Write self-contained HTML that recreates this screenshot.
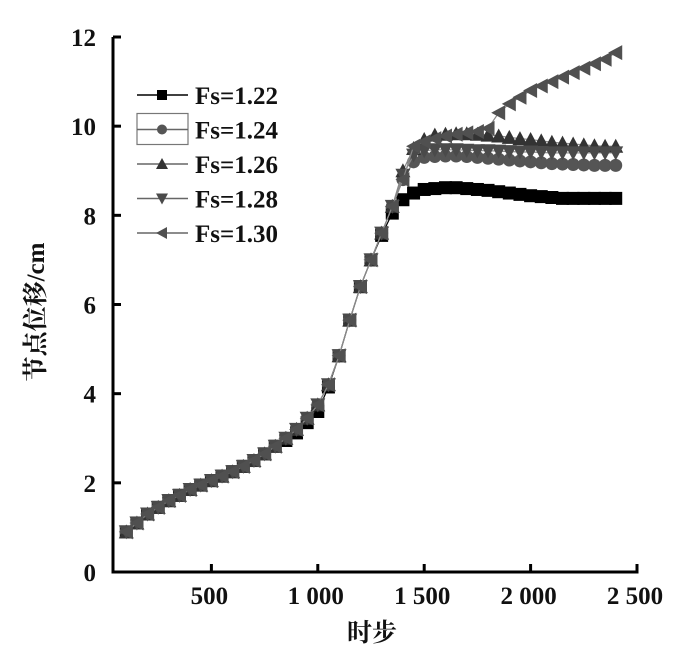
<!DOCTYPE html>
<html><head><meta charset="utf-8"><style>
html,body{margin:0;padding:0;background:#fff;}
svg{display:block;}
text{font-family:"Liberation Serif","Noto Serif CJK SC",serif;fill:#111;font-weight:bold;}
</style></head><body>
<svg id="chart" width="700" height="656"></svg>
<script>
const steps=[100,150,200,250,300,350,400,450,500,550,600,650,700,750,800,850,900,950,1000,1050,1100,1150,1200,1250,1300,1350,1400,1450,1500,1550,1600,1650,1700,1750,1800,1850,1900,1950,2000,2050,2100,2150,2200,2250,2300,2350,2400];
const head=[0.9,1.1,1.3,1.45,1.6,1.72,1.85,1.95,2.05,2.15,2.25,2.37,2.5,2.65,2.82,3.0,3.2,3.45,3.75,4.2,4.85,5.65,6.4,7.0,7.6,8.2];
const head122=[0.9,1.1,1.3,1.45,1.6,1.72,1.85,1.95,2.05,2.15,2.25,2.37,2.5,2.65,2.82,2.95,3.12,3.35,3.6,4.15,4.85,5.65,6.4,7.0,7.55,8.05];
const tail122=[8.35,8.5,8.58,8.6,8.62,8.62,8.6,8.58,8.56,8.53,8.5,8.47,8.44,8.42,8.4,8.38,8.38,8.38,8.38,8.38,8.38];
const tail124=[8.8,9.2,9.3,9.32,9.33,9.33,9.32,9.3,9.28,9.26,9.24,9.22,9.2,9.18,9.16,9.15,9.14,9.13,9.12,9.12,9.12];
const tail126=[9.0,9.5,9.7,9.8,9.82,9.83,9.83,9.82,9.8,9.78,9.75,9.72,9.7,9.67,9.64,9.62,9.6,9.58,9.56,9.55,9.55];
const tail128=[8.9,9.35,9.45,9.47,9.47,9.47,9.46,9.45,9.45,9.44,9.43,9.42,9.42,9.41,9.4,9.4,9.4,9.4,9.4,9.4,9.4];
const tail130=[8.8,9.55,9.65,9.72,9.78,9.82,9.85,9.88,9.95,10.3,10.5,10.65,10.8,10.9,11.0,11.1,11.2,11.3,11.4,11.5,11.65];
const seriesNames=["Fs=1.22","Fs=1.24","Fs=1.26","Fs=1.28","Fs=1.30"];
const xTicks=[500,1000,1500,2000,2500];
const xTickLabels=["500","1 000","1 500","2 000","2 500"];
const yTicks=[0,2,4,6,8,10,12];

const series=[head122.concat(tail122),head.concat(tail124),head.concat(tail126),head.concat(tail128),head.concat(tail130)];
const shapes=["square","circle","up","down","left"];
const fills=["#000","#555","#333","#4a4a4a","#505050"];
const XA=113,XZ=105,Y0=572;
const xs=v=>XZ+v*(532/2500);
const ys=v=>Y0-v*(535/12);
const NS="http://www.w3.org/2000/svg";
const svg=document.getElementById('chart');
function mk(tag,attrs,parent){const e=document.createElementNS(NS,tag);for(const k in attrs)e.setAttribute(k,attrs[k]);(parent||svg).appendChild(e);return e;}
function marker(shape,cx,cy,fill,g,r){
  r=r||6.5;let e;
  if(shape==="square")e=mk('rect',{x:cx-r,y:cy-r,width:2*r,height:2*r,fill:fill},g);
  else if(shape==="circle")e=mk('circle',{cx:cx,cy:cy,r:r,fill:fill},g);
  else{let p;
    if(shape==="up")p=[[cx,cy-r-1],[cx+r+1,cy+r],[cx-r-1,cy+r]];
    else if(shape==="down")p=[[cx-r-1,cy-r],[cx+r+1,cy-r],[cx,cy+r+1]];
    else p=[[cx-r-1,cy],[cx+r,cy-r-1],[cx+r,cy+r+1]];
    e=mk('polygon',{points:p.map(q=>q.join(',')).join(' '),fill:fill},g);}
  return e;
}
const ax=mk('g',{});


mk('line',{x1:XA,y1:ys(12),x2:XA,y2:Y0+1.5,stroke:'#000','stroke-width':3},ax);
mk('line',{x1:XA-1.5,y1:Y0,x2:xs(2500)+1.5,y2:Y0,stroke:'#000','stroke-width':3},ax);
yTicks.forEach(v=>{
  mk('line',{x1:XA,y1:ys(v),x2:XA+8,y2:ys(v),stroke:'#000','stroke-width':3},ax);
  const t=mk('text',{x:96,y:ys(v)+9,'text-anchor':'end','font-size':25},ax);t.textContent=v;
  
  
});
xTicks.forEach((v,i)=>{
  mk('line',{x1:xs(v),y1:Y0,x2:xs(v),y2:Y0-8,stroke:'#000','stroke-width':3},ax);
  const t=mk('text',{x:xs(v)-2,y:Y0+32,'text-anchor':'middle','font-size':25},ax);t.textContent=xTickLabels[i];
  
  
});
const xt=mk('text',{x:372,y:641,'text-anchor':'middle','font-size':25});xt.textContent="时步";


const yt=mk('text',{x:0,y:0,'text-anchor':'middle','font-size':25,transform:'translate(44,312) rotate(-90)'});yt.textContent="节点位移/cm";


series.forEach((vals,si)=>{
  const g=mk('g',{});
  
  
  mk('polyline',{points:vals.map((v,i)=>xs(steps[i])+','+ys(v)).join(' '),fill:'none',stroke:si===0?'#000':'#888','stroke-width':1.2},g);
  vals.forEach((v,i)=>{
    const m=marker(shapes[si],xs(steps[i]),ys(v),fills[si],g);
    
    
  });
});
const lg=mk('g',{});


seriesNames.forEach((n,i)=>{
  const y=95+i*34.5;
  const eg=mk('g',{},lg);
  
  
  if(i===1)mk('rect',{x:137,y:y-16,width:51,height:31,fill:'none',stroke:'#777','stroke-width':1.2},eg);
  mk('line',{x1:137,y1:y,x2:188,y2:y,stroke:i===0?'#000':'#666','stroke-width':1.5},eg);
  marker(shapes[i],162,y,fills[i],eg,5);
  const t=mk('text',{x:195,y:y+9,'font-size':25},eg);t.textContent=n;
});
</script>
</body></html>
